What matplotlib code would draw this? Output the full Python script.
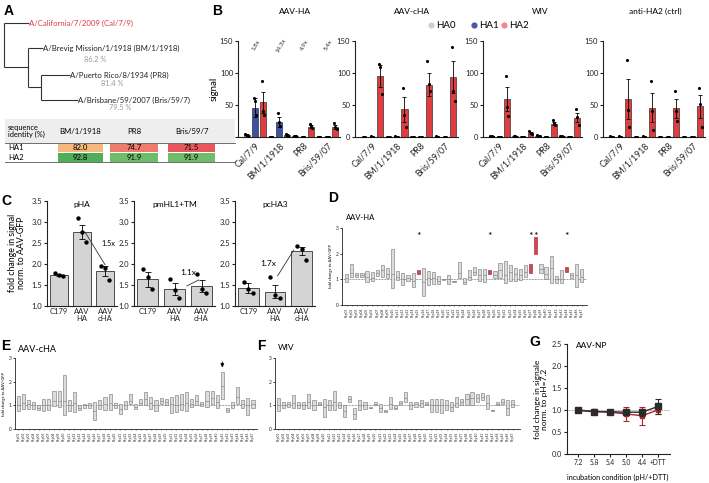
import numpy as np
import matplotlib
matplotlib.use("Agg")
import matplotlib.pyplot as plt
from matplotlib.patches import Rectangle

plt.rcParams['font.family'] = ['Lato', 'DejaVu Sans']

# ---------------- data ----------------
# A: tree + identity table
tree_labels = ["A/California/7/2009 (Cal/7/9)", "A/Brevig Mission/1/1918 (BM/1/1918)",
               "A/Puerto Rico/8/1934 (PR8)", "A/Brisbane/59/2007 (Bris/59/7)"]
tree_pct = ["", "86.2 %", "81.4 %", "79.5 %"]
tab_cols = ["BM/1/1918", "PR8", "Bris/59/7"]
tab_rows = ["HA1", "HA2"]
tab_vals = [[82.0, 74.7, 71.5], [92.8, 91.9, 91.9]]

# B: signal per strain, HA0 / HA1 / HA2
b_strains = ["Cal/7/9", "BM/1/1918", "PR8", "Bris/59/07"]
b_series = ["HA0", "HA1", "HA2"]
b_titles = ["AAV-HA", "AAV-cHA", "WIV", "anti-HA2 (ctrl)"]
b1_mean = [[3, 46, 54], [0.5, 23, 3], [1.5, 0.5, 16], [0.5, 0.5, 16]]
b1_sem = [[1, 15, 17], [0.3, 8, 1], [0.5, 0.3, 2], [0.3, 0.3, 3]]
b1_dots = [[[4, 3, 2], [61, 57, 34], [88, 40, 35]],
           [[0.5, 0.5, 0.5], [38, 24, 17], [5, 3, 2]],
           [[2, 1.5, 1], [0.5, 0.5, 0.5], [20, 17, 14]],
           [[0.5, 0.5, 0.5], [0.5, 0.5, 0.5], [22, 16, 13]]]
b2_mean = [[0.5, 0.5, 95], [0.5, 0.5, 43], [0.3, 0.3, 82], [0.5, 0.3, 93]]
b2_sem = [[0.2, 0.5, 17], [0.2, 0.5, 19], [0.2, 0.3, 18], [0.3, 0.3, 25]]
b2_dots = [[[0.5, 0.5, 0.5], [1, 0.5, 0], [114, 109, 67]],
           [[0.5, 0.5, 0.5], [1, 0.5, 0], [77, 34, 16]],
           [[0.3, 0.3, 0.3], [0.5, 0.3, 0], [118, 83, 72]],
           [[1, 0.5, 0], [0.5, 0.3, 0], [141, 72, 56]]]
b3_mean = [[1, 0.5, 59], [1, 0.5, 6], [2, 0.5, 21], [1, 0.5, 30]]
b3_sem = [[0.3, 0.3, 19], [0.3, 0.3, 2], [0.5, 0.3, 2], [0.3, 0.3, 7]]
b3_dots = [[[1.5, 1, 0.5], [0.5, 0.5, 0], [96, 47, 33]],
           [[1.5, 1, 0.5], [0.5, 0.5, 0], [10, 6, 4]],
           [[3, 2, 1], [0.5, 0.5, 0], [26, 22, 19]],
           [[1.5, 1, 0.5], [0.5, 0.5, 0], [44, 31, 18]]]
b4_mean = [[0.5, 0.5, 59], [0.5, 0.5, 46], [0.3, 0.3, 45], [0.5, 0.3, 48]]
b4_sem = [[0.2, 0.3, 31], [0.2, 0.3, 22], [0.2, 0.2, 15], [0.2, 0.2, 18]]
b4_dots = [[[1, 0.5, 0], [1, 0.5, 0], [120, 42, 16]],
           [[0.5, 0.5, 0.5], [1, 0.5, 0], [88, 40, 11]],
           [[0.3, 0.3, 0.3], [0.5, 0.3, 0], [72, 40, 25]],
           [[0.5, 0.5, 0], [0.5, 0.3, 0], [77, 52, 16]]]
b1_ratio = ["1.8x", "14.3x", "4.9x", "5.4x"]

# C: fold change norm. to AAV-GFP
c_cats = ["C179", "AAV\nHA", "AAV\ncHA"]
c_titles = ["pHA", "pmHL1+TM", "pcHA3"]
c_mean = [[1.74, 2.77, 1.84], [1.64, 1.40, 1.48], [1.43, 1.34, 2.31]]
c_sem = [[0.03, 0.17, 0.12], [0.18, 0.14, 0.14], [0.12, 0.15, 0.1]]
c_dots = [[[1.78, 1.74, 1.71], [3.09, 2.77, 2.53], [1.96, 1.91, 1.63]],
          [[1.87, 1.70, 1.40], [1.64, 1.37, 1.18], [1.76, 1.40, 1.32]],
          [[1.56, 1.40, 1.30], [1.70, 1.26, 1.18], [2.44, 2.36, 2.10]]]
c_ratio = ["1.5x", "1.1x", "1.7x"]

# D/E/F: peptide floating bars (min, max, mean)
peptides = ["Pep%02d" % i for i in range(1, 48)]
d_lo = [0.91, 1.11, 1.11, 1.11, 0.91, 0.94, 1.13, 1.11, 1.04, 0.65, 0.98, 0.78, 0.94, 0.72, 1.20, 0.35,
        0.78, 0.82, 0.81, 0.98, 0.82, 0.89, 1.04, 0.82, 0.98, 1.17, 0.95, 0.91, 1.20, 1.04, 1.04, 0.87,
        0.95, 0.94, 0.97, 1.10, 1.25, 1.97, 1.23, 1.00, 0.87, 0.87, 0.84, 1.29, 1.07, 0.69, 0.91]
d_hi = [1.21, 1.60, 1.24, 1.24, 1.33, 1.30, 1.37, 1.54, 1.43, 2.19, 1.33, 1.24, 1.15, 1.26, 1.37, 1.43,
        1.34, 1.30, 1.13, 1.02, 1.17, 0.95, 1.67, 1.04, 1.37, 1.47, 1.39, 1.39, 1.37, 1.33, 1.63, 1.72,
        1.54, 1.46, 1.42, 1.55, 1.58, 2.65, 1.59, 1.49, 1.90, 1.13, 1.36, 1.49, 1.23, 1.58, 1.40]
d_mid = [1.05, 1.25, 1.15, 1.15, 1.10, 1.05, 1.25, 1.35, 1.20, 1.20, 1.10, 1.00, 1.05, 0.95, 1.28, 0.90,
         1.05, 1.05, 0.95, 1.00, 1.00, 0.92, 1.25, 0.90, 1.10, 1.30, 1.15, 1.15, 1.28, 1.15, 1.35, 1.15,
         1.30, 1.20, 1.15, 1.30, 1.40, 2.30, 1.40, 1.20, 1.45, 1.00, 1.00, 1.38, 1.15, 1.15, 1.10]
d_sig = [15, 29, 37, 38, 44]

e_lo = [0.76, 0.86, 0.86, 0.86, 0.82, 0.76, 0.79, 0.96, 0.93, 0.61, 0.75, 0.72, 0.82, 0.89, 0.89, 0.37,
        0.86, 0.79, 0.79, 0.90, 0.65, 0.86, 1.07, 0.86, 1.00, 1.00, 0.83, 0.76, 1.07, 1.00, 0.69, 0.72,
        0.79, 0.76, 0.93, 1.00, 0.96, 0.93, 1.07, 0.90, 1.28, 0.72, 0.90, 1.07, 0.90, 0.58, 0.90]
e_hi = [1.39, 1.46, 1.24, 1.14, 1.00, 1.28, 1.25, 1.59, 1.59, 2.30, 1.21, 1.56, 1.00, 1.07, 1.10, 1.14,
        1.21, 1.35, 1.46, 1.11, 1.04, 1.18, 1.49, 1.07, 1.28, 1.56, 1.35, 1.24, 1.31, 1.28, 1.35, 1.42,
        1.46, 1.56, 1.28, 1.45, 1.14, 1.59, 1.59, 1.42, 2.41, 0.90, 1.14, 1.77, 1.21, 1.32, 1.21]
e_mid = [1.00, 1.10, 1.05, 1.00, 0.90, 1.00, 1.00, 1.20, 1.20, 1.20, 1.00, 1.10, 0.90, 1.00, 1.00, 0.75,
         1.00, 1.05, 1.10, 1.00, 0.85, 1.00, 1.20, 0.95, 1.10, 1.25, 1.10, 1.00, 1.20, 1.15, 1.05, 1.00,
         1.05, 1.10, 1.05, 1.20, 1.05, 1.20, 1.30, 1.15, 1.80, 0.80, 1.00, 1.35, 1.05, 1.00, 1.05]
e_arrow = 41

f_lo = [0.76, 0.90, 0.93, 0.90, 0.90, 0.86, 0.90, 0.79, 1.00, 0.51, 0.79, 0.79, 0.90, 0.51, 1.14, 0.41,
        0.79, 0.86, 0.88, 1.00, 0.72, 0.72, 0.86, 0.83, 1.00, 1.14, 0.83, 0.93, 0.93, 1.00, 0.72, 0.72,
        0.69, 0.79, 0.76, 0.93, 1.00, 1.00, 1.00, 1.14, 1.21, 0.86, 0.78, 1.00, 1.07, 0.58, 0.93]
f_hi = [1.31, 1.14, 1.14, 1.42, 1.14, 1.14, 1.49, 1.21, 1.14, 1.28, 1.24, 1.61, 1.14, 1.00, 1.38, 0.90,
        1.21, 1.14, 0.92, 1.14, 1.07, 0.79, 1.35, 1.00, 1.18, 1.56, 1.14, 1.14, 1.24, 1.14, 1.28, 1.25,
        1.28, 1.21, 1.14, 1.35, 1.28, 1.49, 1.56, 1.49, 1.52, 1.42, 0.82, 1.14, 1.28, 1.21, 1.21]
f_mid = [1.00, 1.00, 1.05, 1.10, 1.00, 1.00, 1.15, 1.00, 1.05, 0.95, 1.00, 1.15, 1.00, 0.75, 1.25, 0.65,
         1.00, 1.00, 0.90, 1.05, 0.90, 0.75, 1.05, 0.90, 1.10, 1.30, 1.00, 1.05, 1.10, 1.05, 1.00, 1.00,
         1.00, 1.00, 0.95, 1.10, 1.15, 1.25, 1.30, 1.30, 1.35, 1.10, 0.80, 1.05, 1.15, 0.90, 1.05]

# G: AAV-NP pH series
g_cond = ["7.2", "5.8", "5.4", "5.0", "4.4", "+DTT"]
g_black = [0.99, 0.96, 0.96, 0.95, 0.95, 1.08]
g_black_err = [0.02, 0.03, 0.02, 0.07, 0.08, 0.17]
g_red = [1.00, 0.97, 0.95, 0.91, 0.87, 1.00]
g_red_err = [0.01, 0.02, 0.02, 0.16, 0.20, 0.09]

# ---------------- figure ----------------
W, H = 709, 483
fig = plt.figure(figsize=(W / 100, H / 100), dpi=100)


def px_axes(x0, y0, x1, y1):
    return fig.add_axes([x0 / W, 1 - y1 / H, (x1 - x0) / W, (y1 - y0) / H])


def clean(ax, lw=0.8, size=5.5):
    for s in ["top", "right"]:
        ax.spines[s].set_visible(False)
    for s in ["left", "bottom"]:
        ax.spines[s].set_linewidth(lw)
        ax.spines[s].set_color("#222222")
    ax.tick_params(labelsize=size, length=2, width=lw, pad=1.5, colors="#222222")
    ax.set_facecolor("none")


ha_cols = ["#d3d3d3", "#3f51a3", "#e23c3f"]
leg_cols = ["#cfcfcf", "#4a5aa8", "#f08a8a"]

# ---- B ----
b_boxes = [(238, 41, 340, 137), (355, 41, 458, 137), (483, 41, 582, 137), (603, 41, 705, 137)]
b_data = [(b1_mean, b1_sem, b1_dots), (b2_mean, b2_sem, b2_dots),
          (b3_mean, b3_sem, b3_dots), (b4_mean, b4_sem, b4_dots)]
offs = [-0.17, 0.0, 0.17]
b_axes = []
for box, (mean, sem, dots) in zip(b_boxes, b_data):
    ax = px_axes(*box)
    clean(ax)
    slots = np.arange(12)
    m = np.array(mean, dtype=float).ravel()
    s = np.array(sem, dtype=float).ravel()
    cols = [ha_cols[i % 3] for i in range(12)]
    ax.bar(slots, m, width=0.75, color=cols, edgecolor="#333333", linewidth=0.5, zorder=2)
    ax.errorbar(slots, m, yerr=s, fmt="none", ecolor="k", elinewidth=0.6, capsize=1.3,
                capthick=0.6, zorder=3)
    for g in range(4):
        for k in range(3):
            pts = dots[g][k]
            ax.scatter(g * 3 + k + np.array(offs[:len(pts)]), pts, s=5, color="k", lw=0, zorder=4)
    ax.set_xlim(-1.1, 11.6)
    ax.set_ylim(0, 150)
    ax.set_yticks([0, 50, 100, 150])
    ax.set_xticks([1, 4, 7, 10])
    ax.set_xticklabels(b_strains, rotation=45, ha="right", rotation_mode="anchor", fontsize=6.3)
    ax.tick_params(axis="x", length=0, pad=3)
    b_axes.append(ax)
b_axes[0].set_ylabel("signal", fontsize=7, labelpad=1)
for i, r in enumerate(b1_ratio):
    b_axes[0].text(1.2 + 3 * i, 143, r, rotation=60, fontsize=4.5, ha="center", va="center",
                   color="#333333")

# ---- C ----
c_boxes = [(47, 201, 117, 306), (134, 201, 215, 306), (235, 201, 315, 306)]
c_axes = []
for ci, box in enumerate(c_boxes):
    ax = px_axes(*box)
    clean(ax)
    x = np.arange(3)
    ax.bar(x, np.array(c_mean[ci]) - 1, bottom=1, width=0.78, color="#d4d4d4",
           edgecolor="#333333", linewidth=0.6, zorder=2)
    ax.errorbar(x, c_mean[ci], yerr=c_sem[ci], fmt="none", ecolor="k", elinewidth=0.6,
                capsize=2.5, capthick=0.6, zorder=3)
    for k in range(3):
        ax.scatter(k + np.array(offs), c_dots[ci][k], s=10, color="k", lw=0, zorder=4)
    ax.set_xlim(-0.5, 2.5)
    ax.set_ylim(1.0, 3.5)
    ax.set_yticks(np.arange(1.0, 3.51, 0.5))
    ax.set_yticklabels(["%.1f" % v for v in np.arange(1.0, 3.51, 0.5)])
    ax.set_xticks(x)
    ax.set_xticklabels(c_cats, fontsize=5.5, linespacing=1.0)
    ax.tick_params(axis="x", length=0, pad=1.5)
    ax.text(0.5, 1.0, c_titles[ci], transform=ax.transAxes, ha="center", va="top", fontsize=6)
    c_axes.append(ax)
c_axes[0].plot([1.13, 1.99], [2.76, 1.98], color="#333333", lw=0.6, zorder=5)
c_axes[0].text(1.85, 2.5, c_ratio[0], fontsize=5.3, ha="left", va="center")
c_axes[1].plot([1.46, 1.9], [1.48, 1.62], color="#333333", lw=0.6, zorder=5)
c_axes[1].text(1.5, 1.8, c_ratio[1], fontsize=6, ha="center", va="center")
c_axes[2].plot([1.1, 1.7], [1.72, 2.33], color="#333333", lw=0.6, zorder=5)
c_axes[2].text(1.05, 2.02, c_ratio[2], fontsize=6, ha="right", va="center")


# ---- D / E / F ----
def draw_pep(box, lo, hi, mid, xlim, red=()):
    ax = px_axes(*box)
    clean(ax, lw=0.6, size=3.5)
    x = np.arange(1, len(lo) + 1)
    lo = np.array(lo)
    hi = np.array(hi)
    cols = ["#d6454b" if i in red else "#dcdcdc" for i in x]
    ecols = ["#a82a30" if i in red else "#808080" for i in x]
    ax.bar(x, hi - lo, bottom=lo, width=0.62, color=cols, edgecolor=ecols, linewidth=0.45, zorder=2)
    ax.hlines(mid, x - 0.31, x + 0.31, colors="#777777", lw=0.4, zorder=3)
    ax.axhline(1, ls=(0, (1, 1.2)), color="#333333", lw=0.5, zorder=1)
    ax.set_ylim(0, 3)
    ax.set_xlim(*xlim)
    ax.set_yticks([0, 1, 2, 3])
    ax.set_xticks(x)
    ax.set_xticklabels(peptides, rotation=90, fontsize=2.3)
    ax.tick_params(axis="x", length=1, width=0.4, pad=0.8)
    ax.tick_params(axis="y", length=1.5, pad=1)
    return ax


ax_d = draw_pep((342, 228, 587, 305), d_lo, d_hi, d_mid, (0.1, 48.0), red=d_sig)
for i in d_sig:
    ax_d.text(i, 2.68, "*", ha="center", va="center", fontsize=7.5)
ax_d.set_ylabel("fold change to AAV-GFP", fontsize=3, labelpad=2)

ax_e = draw_pep((15, 358, 257, 429), e_lo, e_hi, e_mid, (0.35, 47.8))
ax_e.annotate("", xy=(e_arrow, 2.48), xytext=(e_arrow, 2.95),
              arrowprops=dict(arrowstyle="-|>", lw=0.7, color="k", mutation_scale=5))
ax_e.set_ylabel("fold change to AAV-GFP", fontsize=3, labelpad=2)

ax_f = draw_pep((275, 358, 520, 429), f_lo, f_hi, f_mid, (0.35, 48.4))

# ---- G ----
ax_g = px_axes(567, 344, 670, 454)
clean(ax_g, size=5.2)
gx = np.arange(len(g_cond))
ax_g.axhline(1, ls=(0, (1, 1.2)), color="#555555", lw=0.5, zorder=1)
ax_g.errorbar(gx, g_red, yerr=g_red_err, color="#b3262b", lw=1.0, marker="s", ms=3,
              capsize=2, capthick=0.8, elinewidth=0.8, zorder=3)
ax_g.errorbar(gx, g_black, yerr=g_black_err, color="#2b2b2b", lw=1.0, marker="s", ms=5,
              capsize=2, capthick=0.8, elinewidth=0.8, zorder=4)
ax_g.set_xlim(-0.7, 5.75)
ax_g.set_ylim(0, 2.5)
ax_g.set_yticks(np.arange(0, 2.51, 0.5))
ax_g.set_yticklabels(["%.1f" % v for v in np.arange(0, 2.51, 0.5)])
ax_g.set_xticks(gx)
ax_g.set_xticklabels(g_cond, fontsize=4.8)

# ---------------- overlay (text, tree, table, legend) ----------------
ov = fig.add_axes([0, 0, 1, 1])
ov.set_xlim(0, W)
ov.set_ylim(H, 0)
ov.axis("off")

# tree
tc = "#333333"
segs = [([4, 4], [23, 67]), ([4, 29], [23, 23]), ([4, 28], [67, 67]), ([28, 28], [48, 87]),
        ([28, 43], [48, 48]), ([28, 41], [87, 87]), ([41, 41], [75, 100]),
        ([41, 70], [75, 75]), ([41, 78], [100, 100])]
for xs, ys in segs:
    ov.plot(xs, ys, color=tc, lw=0.8, solid_capstyle="butt")
label_xy = [(29, 23), (43, 48), (70, 75), (78, 100)]
pct_xy = [(0, 0), (95, 59), (112, 84), (120, 108)]
for i, lab in enumerate(tree_labels):
    ov.text(label_xy[i][0], label_xy[i][1], lab, fontsize=5.6, va="center", ha="left",
            color="#e03a3e" if i == 0 else "#222222")
    if tree_pct[i]:
        ov.text(pct_xy[i][0], pct_xy[i][1], tree_pct[i], fontsize=5.3, va="center", ha="center",
                color="#9a9a9a")

# table
ov.add_patch(Rectangle((5, 119), 230, 24, color="#eeeeee", lw=0))
ov.plot([5, 235], [143, 143], color="#555555", lw=0.6)
ov.plot([5, 235], [162, 162], color="#555555", lw=0.6)
ov.text(8, 131, "sequence\nidentity (%)", fontsize=5.3, va="center", ha="left", linespacing=1.1)
col_x = [(58, 103), (110, 158), (168, 215)]
cell_cols = [["#f6b87a", "#ef7b6b", "#e8575c"], ["#4fae58", "#6dbd6a", "#6dbd6a"]]
row_y = [(143.5, 152), (152.5, 161.5)]
for j, name in enumerate(tab_cols):
    ov.text((col_x[j][0] + col_x[j][1]) / 2, 131, name, fontsize=5.6, ha="center", va="center")
for r, rname in enumerate(tab_rows):
    ov.text(8, (row_y[r][0] + row_y[r][1]) / 2, rname, fontsize=5.6, ha="left", va="center")
    for j in range(3):
        ov.add_patch(Rectangle((col_x[j][0], row_y[r][0]), col_x[j][1] - col_x[j][0],
                               row_y[r][1] - row_y[r][0], color=cell_cols[r][j], lw=0))
        ov.text((col_x[j][0] + col_x[j][1]) / 2, (row_y[r][0] + row_y[r][1]) / 2,
                "%.1f" % tab_vals[r][j], fontsize=5.6, ha="center", va="center")

# B titles and legend
for t, cx in zip(b_titles, [295, 412, 540, 655]):
    ov.text(cx, 11, t, fontsize=6, ha="center", va="center")
for k, (lx, name) in enumerate(zip([431, 474, 504], b_series)):
    ov.scatter([lx], [25], s=20, color=leg_cols[k], lw=0)
    ov.text(lx + 5, 25, name, fontsize=7, ha="left", va="center")

# panel letters
for lab, (lx, ly) in zip("ABCDEFG", [(4, 11), (212, 11), (1, 201), (328, 198), (1, 346),
                                      (257, 346), (529, 342)]):
    ov.text(lx, ly, lab, fontsize=10, fontweight="bold", ha="left", va="center",
            family=["Liberation Sans", "DejaVu Sans"])

# misc labels
ov.text(17, 253, "fold change in signal\nnorm. to AAV-GFP", fontsize=6.3, rotation=90,
        ha="center", va="center", linespacing=1.0)
ov.text(346, 218, "AAV-HA", fontsize=5.5, ha="left", va="center")
ov.text(18, 349, "AAV-cHA", fontsize=6.5, ha="left", va="center")
ov.text(278, 348, "WIV", fontsize=6, ha="left", va="center")
ov.text(576, 345, "AAV-NP", fontsize=6, ha="left", va="center")
ov.text(541, 399, "fold change in signale\nnorm. to pH=7.2", fontsize=6, rotation=90,
        ha="center", va="center", linespacing=1.0)
ov.text(618, 477, "incubation condition (pH/+DTT)", fontsize=5.2, ha="center", va="center")

fig.savefig("out.png", dpi=100)
